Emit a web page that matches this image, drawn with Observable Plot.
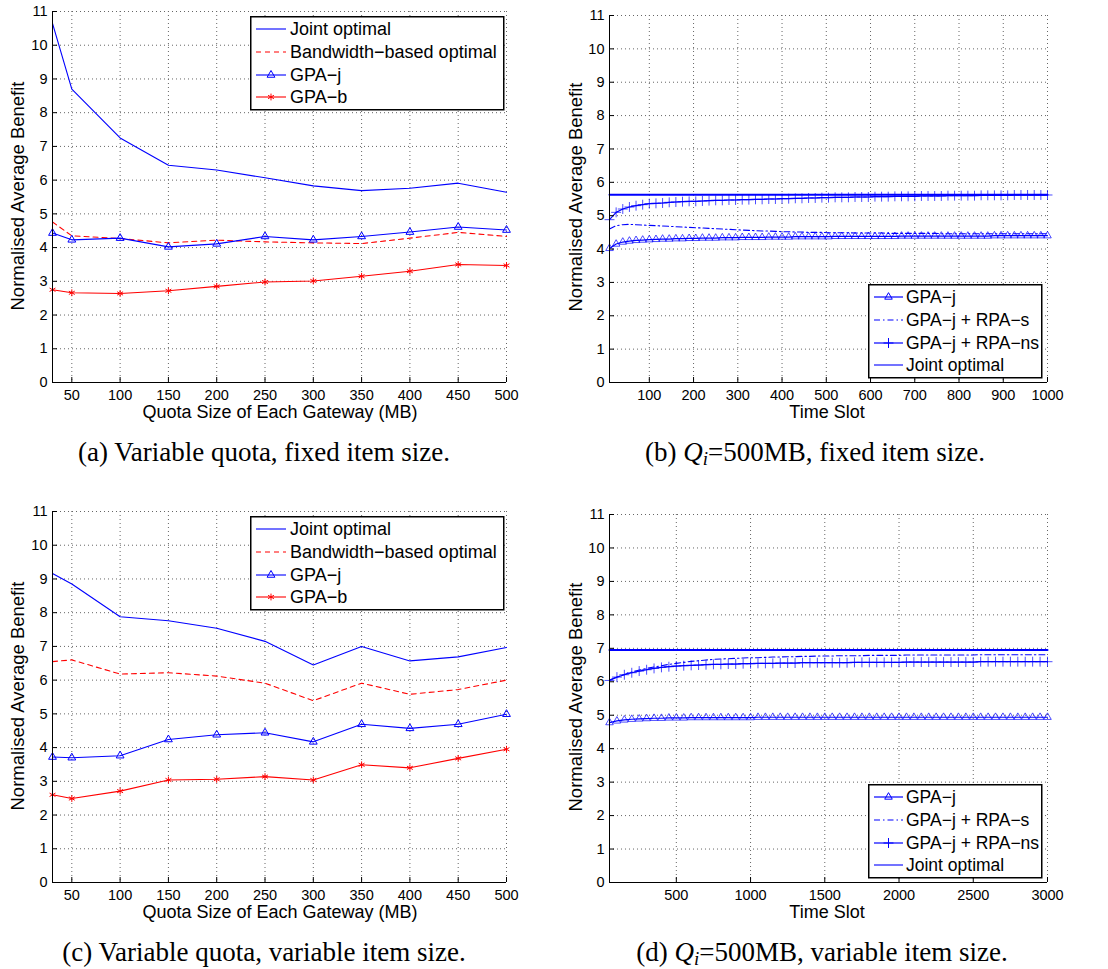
<!DOCTYPE html>
<html>
<head>
<meta charset="utf-8">
<script src="https://cdn.jsdelivr.net/npm/d3@7"></script>
<script src="https://cdn.jsdelivr.net/npm/@observablehq/plot@0.6"></script>
<style>
  body { margin: 0; background: #fff; }
  #root { position: relative; width: 1108px; height: 969px; overflow: hidden; background: #fff;
          font-family: "Liberation Sans", Arial, sans-serif; color: #000; }
  .panel { position: absolute; }
  .ylab { position: absolute; font-size: 18.5px; white-space: nowrap; line-height: 1;
          transform: translate(-50%, -50%) rotate(-90deg); }
  .xlab { position: absolute; font-size: 18px; white-space: nowrap; line-height: 1; transform: translateX(-50%); }
  .caption { position: absolute; font-family: "Liberation Serif", "DejaVu Serif", serif; font-size: 27px;
             white-space: nowrap; line-height: 1; transform: translateX(-50%); }
  .caption sub { font-size: 0.7em; vertical-align: -0.2em; line-height: 0; }
  .legend { position: absolute; overflow: visible; }
</style>
</head>
<body>
<div id="root"></div>
<script>
// ---------------- data ----------------
const yTicks = [0,1,2,3,4,5,6,7,8,9,10,11];

// (a), (c): quota size of each gateway (MB)
const quota = [30, 50, 100, 150, 200, 250, 300, 350, 400, 450, 500];
const quotaTicks = [50, 100, 150, 200, 250, 300, 350, 400, 450, 500];

const aJoint = [10.65, 8.70, 7.25, 6.44, 6.30, 6.07, 5.83, 5.69, 5.76, 5.91, 5.64];
const aBand  = [4.76, 4.35, 4.27, 4.14, 4.22, 4.17, 4.14, 4.12, 4.28, 4.45, 4.33];
const aGpaJ  = [4.43, 4.23, 4.28, 4.02, 4.11, 4.33, 4.23, 4.33, 4.46, 4.61, 4.52];
const aGpaB  = [2.75, 2.66, 2.64, 2.72, 2.85, 2.98, 3.01, 3.15, 3.30, 3.50, 3.47];

const cJoint = [9.16, 8.85, 7.88, 7.76, 7.54, 7.15, 6.45, 7.00, 6.57, 6.69, 6.97];
const cBand  = [6.55, 6.60, 6.18, 6.22, 6.12, 5.91, 5.39, 5.91, 5.58, 5.72, 6.00];
const cGpaJ  = [3.72, 3.70, 3.76, 4.24, 4.38, 4.44, 4.17, 4.69, 4.57, 4.69, 4.99];
const cGpaB  = [2.60, 2.49, 2.71, 3.04, 3.06, 3.14, 3.04, 3.49, 3.40, 3.68, 3.95];

// (b): time slots 10..1000
const bSlots = d3.range(10, 1001, 15);
const bTicks = [100, 200, 300, 400, 500, 600, 700, 800, 900, 1000];
const bGpaJ = [4.02,4.15,4.21,4.24,4.26,4.27,4.28,4.29,4.30,4.30,
               4.31,4.31,4.32,4.32,4.33,4.33,4.33,4.34,4.34,4.34,
               4.35,4.35,4.35,4.35,4.36,4.36,4.36,4.36,4.37,4.37,
               4.37,4.37,4.37,4.37,4.38,4.38,4.38,4.38,4.38,4.38,
               4.38,4.38,4.38,4.38,4.39,4.39,4.39,4.39,4.39,4.39,
               4.39,4.39,4.39,4.39,4.39,4.39,4.39,4.39,4.40,4.40,
               4.40,4.40,4.40,4.40,4.40,4.40,4.40];
const bRpaS = [4.60,4.70,4.73,4.74,4.73,4.72,4.71,4.70,4.69,4.68,
               4.67,4.66,4.65,4.64,4.63,4.62,4.61,4.60,4.59,4.58,
               4.57,4.56,4.55,4.54,4.54,4.53,4.52,4.52,4.51,4.51,
               4.50,4.50,4.50,4.49,4.49,4.49,4.49,4.48,4.48,4.48,
               4.48,4.48,4.47,4.47,4.47,4.47,4.47,4.47,4.47,4.47,
               4.46,4.46,4.46,4.46,4.46,4.46,4.46,4.46,4.46,4.46,
               4.46,4.46,4.46,4.46,4.46,4.46,4.46];
const bRpaNs = [4.88,5.10,5.20,5.26,5.30,5.33,5.36,5.37,5.38,5.40,
                5.41,5.42,5.43,5.43,5.44,5.45,5.46,5.46,5.47,5.47,
                5.48,5.48,5.49,5.49,5.50,5.50,5.51,5.51,5.52,5.52,
                5.53,5.53,5.54,5.54,5.55,5.55,5.55,5.56,5.56,5.56,
                5.57,5.57,5.57,5.58,5.58,5.58,5.58,5.59,5.59,5.59,
                5.59,5.60,5.60,5.60,5.60,5.60,5.61,5.61,5.61,5.61,
                5.61,5.62,5.62,5.62,5.62,5.62,5.62];
const bJointSlots = [10, 1000];
const bJoint = [5.63, 5.63];

// (d): time slots 50..3000
const dSlots = d3.range(50, 3001, 50);
const dTicks = [500, 1000, 1500, 2000, 2500, 3000];
const dGpaJ = [4.78,4.83,4.86,4.88,4.89,4.90,4.91,4.91,4.92,4.92,
               4.92,4.93,4.93,4.93,4.93,4.93,4.93,4.93,4.93,4.93,
               4.94,4.94,4.94,4.94,4.94,4.94,4.94,4.94,4.94,4.94,
               4.94,4.94,4.94,4.94,4.94,4.94,4.94,4.94,4.94,4.94,
               4.94,4.94,4.94,4.94,4.94,4.94,4.94,4.94,4.94,4.94,
               4.94,4.94,4.94,4.94,4.94,4.94,4.94,4.94,4.94,4.94];
const dRpaS = [6.05,6.14,6.22,6.29,6.35,6.40,6.44,6.48,6.52,6.55,
               6.58,6.61,6.63,6.65,6.67,6.68,6.69,6.70,6.71,6.72,
               6.72,6.73,6.74,6.74,6.75,6.75,6.76,6.76,6.77,6.77,
               6.77,6.78,6.78,6.78,6.78,6.79,6.79,6.79,6.79,6.79,
               6.80,6.80,6.80,6.80,6.80,6.80,6.80,6.80,6.80,6.80,
               6.81,6.81,6.81,6.81,6.81,6.81,6.81,6.81,6.81,6.81];
const dRpaNs = [6.04,6.14,6.21,6.27,6.32,6.36,6.40,6.43,6.45,6.47,
                6.48,6.49,6.50,6.51,6.52,6.52,6.53,6.53,6.54,6.54,
                6.55,6.55,6.55,6.56,6.56,6.56,6.57,6.57,6.57,6.57,
                6.57,6.57,6.57,6.58,6.58,6.58,6.58,6.58,6.58,6.58,
                6.59,6.59,6.59,6.59,6.59,6.59,6.59,6.59,6.59,6.59,
                6.60,6.60,6.60,6.60,6.60,6.60,6.60,6.60,6.60,6.60];
const dJointSlots = [50, 3000];
const dJoint = [6.95, 6.95];

// labels
const yLabel = "Normalised Average Benefit";
const quotaLabel = "Quota Size of Each Gateway (MB)";
const slotLabel = "Time Slot";
const legendAC = ["Joint optimal", "Bandwidth\u2212based optimal", "GPA\u2212j", "GPA\u2212b"];
const legendBD = ["GPA\u2212j", "GPA\u2212j + RPA\u2212s", "GPA\u2212j + RPA\u2212ns", "Joint optimal"];

// ---------------- styles ----------------
const BLUE = "#0000ff", RED = "#ff0000";
const styleJoint = {color: BLUE, width: 1.1};
const styleBand  = {color: RED, width: 1.1, dash: "5,4"};
const styleGpaJ  = {color: BLUE, width: 1.1, symbol: "triangle", r: 2.9};
const styleGpaB  = {color: RED, width: 1.1, symbol: "asterisk", r: 3.2};
const styleTJ    = {color: BLUE, width: 1.2, symbol: "triangle", r: 2.8, mOpacity: 0.7};
const styleTS    = {color: BLUE, width: 1.1, dash: "6,3,1.5,3"};
const styleTNs   = {color: BLUE, width: 1.2, symbol: "plus", r: 3.3, mOpacity: 0.7};
const styleTJo   = {color: BLUE, width: 2};

const root = document.getElementById("root");

function makePanel({left, top, width, height, mL, mT, mR, mB, xDomain, xTicks, series}) {
  const innerH = height - mT - mB, innerW = width - mL - mR;
  const grid = {stroke: "#666", strokeWidth: 1, strokeDasharray: "1,3"};
  const marks = [
    Plot.ruleX(xTicks, grid),
    Plot.ruleY(yTicks.filter(d => d > 0), grid)
  ];
  for (const s of series) {
    const data = s.x.map((x, i) => ({x, y: s.y[i]}));
    marks.push(Plot.line(data, {x: "x", y: "y", stroke: s.st.color, strokeWidth: s.st.width,
      strokeDasharray: s.st.dash}));
    if (s.st.symbol) {
      marks.push(Plot.dot(data, {x: "x", y: "y", symbol: s.st.symbol, r: s.st.r, stroke: s.st.color,
        fill: "none", strokeWidth: 1, strokeOpacity: s.st.mOpacity ?? 1}));
    }
  }
  marks.push(
    Plot.ruleX([xDomain[0]], {stroke: "#000", strokeWidth: 1}),
    Plot.ruleY([0], {stroke: "#000", strokeWidth: 1}),
    Plot.tickX(xTicks, {x: d => d, stroke: "#000", insetTop: innerH - 5}),
    Plot.tickY(yTicks, {y: d => d, stroke: "#000", insetRight: innerW - 5}),
    Plot.axisX({ticks: xTicks, tickSize: 0, tickPadding: 7, fontSize: 14.5, label: null, tickFormat: d => String(d)}),
    Plot.axisY({ticks: yTicks, tickSize: 0, tickPadding: 5, fontSize: 14.5, label: null, tickFormat: d => String(d)})
  );
  const svg = Plot.plot({
    width, height,
    marginLeft: mL, marginTop: mT, marginRight: mR, marginBottom: mB,
    x: {domain: xDomain},
    y: {domain: [0, 11]},
    style: {fontFamily: "'Liberation Sans', Arial, sans-serif", fontSize: "14.5px", background: "none", overflow: "visible", color: "#000"},
    marks
  });
  svg.classList.add("panel");
  svg.style.left = left + "px";
  svg.style.top = top + "px";
  root.appendChild(svg);
}

function makeLegend({left, top, width, height, labels, styles, fontSize, x0, x1, tx}) {
  const rows = [13, 36, 59, 81];
  const svg = d3.create("svg").attr("class", "legend")
    .attr("width", width + 6).attr("height", height + 2)
    .style("left", left + "px").style("top", top + "px");
  svg.append("rect").attr("x", 0.75).attr("y", 0.75).attr("width", width).attr("height", height)
    .attr("fill", "#fff").attr("stroke", "#000").attr("stroke-width", 1.5);
  labels.forEach((lab, i) => {
    const st = styles[i], y = rows[i];
    svg.append("line").attr("x1", x0).attr("x2", x1).attr("y1", y).attr("y2", y)
      .attr("stroke", st.color).attr("stroke-width", Math.min(st.width, 1.2))
      .attr("stroke-dasharray", st.dash || null);
    if (st.symbol) {
      const sym = st.symbol === "triangle" ? d3.symbolTriangle : st.symbol === "plus" ? d3.symbolPlus : d3.symbolAsterisk;
      svg.append("path").attr("d", d3.symbol(sym, Math.PI * st.r * st.r)())
        .attr("transform", `translate(${(x0 + x1) / 2},${y})`)
        .attr("fill", "none").attr("stroke", st.color).attr("stroke-width", 1);
    }
    svg.append("text").attr("x", tx).attr("y", y).attr("dy", "0.36em")
      .attr("font-size", fontSize).attr("font-family", "'Liberation Sans', Arial, sans-serif")
      .text(lab);
  });
  root.appendChild(svg.node());
}

function addDiv(cls, html, x, y) {
  const d = document.createElement("div");
  d.className = cls;
  d.innerHTML = html;
  d.style.left = x + "px";
  d.style.top = y + "px";
  root.appendChild(d);
}

// ---------------- panels ----------------
makePanel({left: 0, top: 0, width: 540, height: 440, mL: 52, mT: 11, mR: 34, mB: 58,
  xDomain: [30, 500], xTicks: quotaTicks,
  series: [
    {x: quota, y: aJoint, st: styleJoint},
    {x: quota, y: aBand, st: styleBand},
    {x: quota, y: aGpaJ, st: styleGpaJ},
    {x: quota, y: aGpaB, st: styleGpaB}
  ]});
makePanel({left: 550, top: 0, width: 558, height: 440, mL: 59, mT: 15, mR: 61, mB: 58,
  xDomain: [10, 1000], xTicks: bTicks,
  series: [
    {x: bSlots, y: bGpaJ, st: styleTJ},
    {x: bSlots, y: bRpaS, st: styleTS},
    {x: bSlots, y: bRpaNs, st: styleTNs},
    {x: bJointSlots, y: bJoint, st: styleTJo}
  ]});
makePanel({left: 0, top: 500, width: 540, height: 440, mL: 52, mT: 11, mR: 34, mB: 58,
  xDomain: [30, 500], xTicks: quotaTicks,
  series: [
    {x: quota, y: cJoint, st: styleJoint},
    {x: quota, y: cBand, st: styleBand},
    {x: quota, y: cGpaJ, st: styleGpaJ},
    {x: quota, y: cGpaB, st: styleGpaB}
  ]});
makePanel({left: 550, top: 500, width: 558, height: 440, mL: 59, mT: 14, mR: 61, mB: 58,
  xDomain: [50, 3000], xTicks: dTicks,
  series: [
    {x: dSlots, y: dGpaJ, st: styleTJ},
    {x: dSlots, y: dRpaS, st: styleTS},
    {x: dSlots, y: dRpaNs, st: styleTNs},
    {x: dJointSlots, y: dJoint, st: styleTJo}
  ]});

// legends
const acStyles = [styleJoint, styleBand, styleGpaJ, styleGpaB];
const bdStyles = [styleTJ, styleTS, styleTNs, {color: BLUE, width: 1.1}];
makeLegend({left: 250, top: 16, width: 253, height: 93, labels: legendAC, styles: acStyles, fontSize: 18, x0: 6, x1: 36, tx: 40});
makeLegend({left: 250, top: 516, width: 253, height: 93, labels: legendAC, styles: acStyles, fontSize: 18, x0: 6, x1: 36, tx: 40});
makeLegend({left: 868, top: 284, width: 173, height: 93, labels: legendBD, styles: bdStyles, fontSize: 17.5, x0: 6, x1: 35, tx: 38});
makeLegend({left: 868, top: 784, width: 173, height: 93, labels: legendBD, styles: bdStyles, fontSize: 17.5, x0: 6, x1: 35, tx: 38});

// axis labels
addDiv("ylab", yLabel, 18, 196);
addDiv("ylab", yLabel, 576, 197);
addDiv("ylab", yLabel, 18, 696);
addDiv("ylab", yLabel, 576, 697);
addDiv("xlab", quotaLabel, 280, 403);
addDiv("xlab", slotLabel, 827, 403);
addDiv("xlab", quotaLabel, 280, 903);
addDiv("xlab", slotLabel, 827, 903);

// captions
addDiv("caption", "(a) Variable quota, fixed item size.", 264, 439);
addDiv("caption", "(b) <i>Q<sub>i</sub></i>=500MB, fixed item size.", 815, 439);
addDiv("caption", "(c) Variable quota, variable item size.", 264, 939);
addDiv("caption", "(d) <i>Q<sub>i</sub></i>=500MB, variable item size.", 822, 939);
</script>
</body>
</html>
